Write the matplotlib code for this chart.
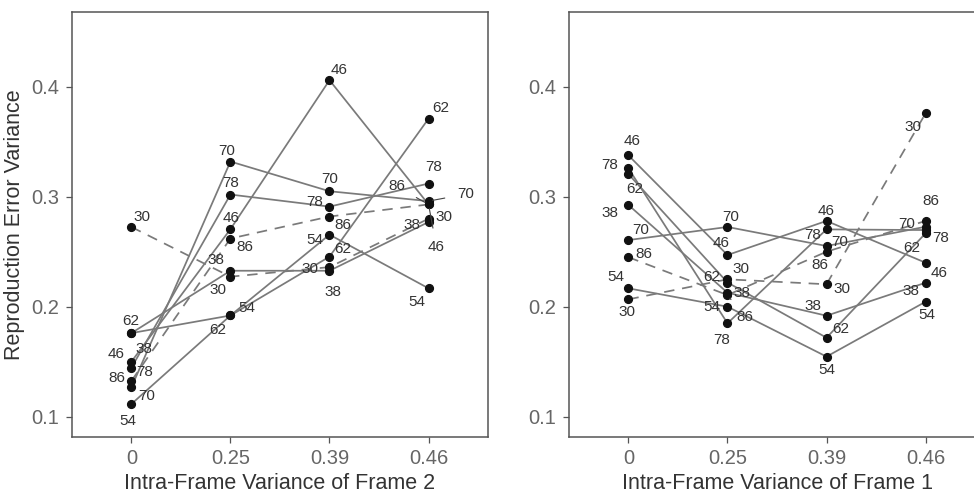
import matplotlib
matplotlib.use('Agg')
import matplotlib.pyplot as plt
import numpy as np

plt.rcParams['font.family'] = ['Liberation Sans', 'DejaVu Sans']

x_labels = ['0', '0.25', '0.39', '0.46']
groups = ['30', '38', '46', '54', '62', '70', '78', '86']
dashed_groups = ['30', '86']

# reproduction error variance, left panel (frame 2 varied)
f2_30 = [0.2725, 0.2273, 0.236, 0.280]
f2_38 = [0.176, 0.2327, 0.2327, 0.277]
f2_46 = [0.150, 0.2705, 0.406, 0.293]
f2_54 = [0.1115, 0.192, 0.2655, 0.2167]
f2_62 = [0.176, 0.192, 0.2455, 0.371]
f2_70 = [0.1267, 0.332, 0.305, 0.296]
f2_78 = [0.1445, 0.302, 0.291, 0.312]
f2_86 = [0.1325, 0.262, 0.282, 0.293]

# right panel (frame 1 varied)
f1_30 = [0.2067, 0.2249, 0.2204, 0.3758]
f1_38 = [0.2925, 0.2127, 0.1918, 0.2218]
f1_46 = [0.3376, 0.247, 0.278, 0.240]
f1_54 = [0.2167, 0.200, 0.1546, 0.2045]
f1_62 = [0.3206, 0.222, 0.1718, 0.2667]
f1_70 = [0.2606, 0.2725, 0.2552, 0.2727]
f1_78 = [0.3258, 0.1849, 0.2703, 0.2697]
f1_86 = [0.245, 0.2106, 0.250, 0.278]

left_data = dict(zip(groups, [f2_30, f2_38, f2_46, f2_54, f2_62, f2_70, f2_78, f2_86]))
right_data = dict(zip(groups, [f1_30, f1_38, f1_46, f1_54, f1_62, f1_70, f1_78, f1_86]))

# label nudges in pixels (dx right, dy down), mimicking the repelled labels
left_nudge = {
    '30': [(11, -10), (-12, 13), (-20, 2), (15, -2)],
    '38': [(13, 16), (-14, -11), (3, 21), (-17, 3)],
    '46': [(-15, -8), (1, -11), (10, -10), (8, 43)],
    '54': [(-4, 17), (16, -7), (-15, 5), (-12, 14)],
    '62': [(-1, -12), (-13, 15), (13, -8), (12, -11)],
    '70': [(15, 9), (-4, -11), (0, -12), (37, -7)],
    '78': [(13, 4), (0, -12), (-15, -5), (5, -17)],
    '86': [(-15, -3), (14, 8), (13, 8), (-32, -18)],
}
right_nudge = {
    '30': [(-1, 13), (13, -10), (15, 5), (-13, 14)],
    '38': [(-18, 8), (14, 0), (-14, -10), (-15, 8)],
    '46': [(4, -14), (-6, -12), (0, -10), (14, 10)],
    '54': [(-13, -11), (-16, 0), (0, 13), (1, 13)],
    '62': [(6, 15), (-16, -6), (14, -9), (-14, 15)],
    '70': [(12, -10), (3, -10), (13, -4), (-19, -3)],
    '78': [(-19, -3), (-6, 17), (-14, 6), (15, 8)],
    '86': [(15, -3), (17, 22), (-7, 13), (5, -20)],
}

fig = plt.figure(figsize=(9.74, 4.92), dpi=100)
ax1 = fig.add_axes([0.0739, 0.1118, 0.4271, 0.8638])
ax2 = fig.add_axes([0.5842, 0.1118, 0.4271, 0.8638])

xpos = np.arange(len(x_labels))


def draw_panel(ax, data, nudge, xlabel):
    for g in groups:
        ls = (0, (6, 4.5)) if g in dashed_groups else '-'
        ax.plot(xpos, data[g], color='#7a7a7a', lw=1.25, ls=ls, zorder=2)
    for g in groups:
        ax.plot(xpos, data[g], 'o', color='#111111', ms=5.6, zorder=3)
        for i, v in enumerate(data[g]):
            dx, dy = nudge[g][i]
            far = np.hypot(dx, dy) > 22
            ax.annotate(g, (xpos[i], v), xytext=(dx, -dy), textcoords='offset pixels',
                        ha='center', va='center', fontsize=11, color='#333333', zorder=4,
                        arrowprops=dict(arrowstyle='-', color='#444444', lw=0.8,
                                        shrinkA=7, shrinkB=3) if far else None)
    ax.set_xlim(-0.6, 3.6)
    ax.set_ylim(0.0815, 0.468)
    ax.set_xticks(xpos)
    ax.set_xticklabels(x_labels)
    ax.set_yticks([0.1, 0.2, 0.3, 0.4])
    ax.set_yticklabels(['0.1', '0.2', '0.3', '0.4'])
    ax.tick_params(colors='#555555', labelcolor='#666666', labelsize=14.5,
                   length=4, width=0.9, pad=5)
    for s in ax.spines.values():
        s.set_color('#555555')
        s.set_linewidth(1.1)
    ax.set_xlabel(xlabel, fontsize=15.5, color='#333333', labelpad=3)


draw_panel(ax1, left_data, left_nudge, 'Intra-Frame Variance of Frame 2')
draw_panel(ax2, right_data, right_nudge, 'Intra-Frame Variance of Frame 1')
ax1.set_ylabel('Reproduction Error Variance', fontsize=15.5, color='#333333', labelpad=5)

fig.savefig('out.png', dpi=100)
